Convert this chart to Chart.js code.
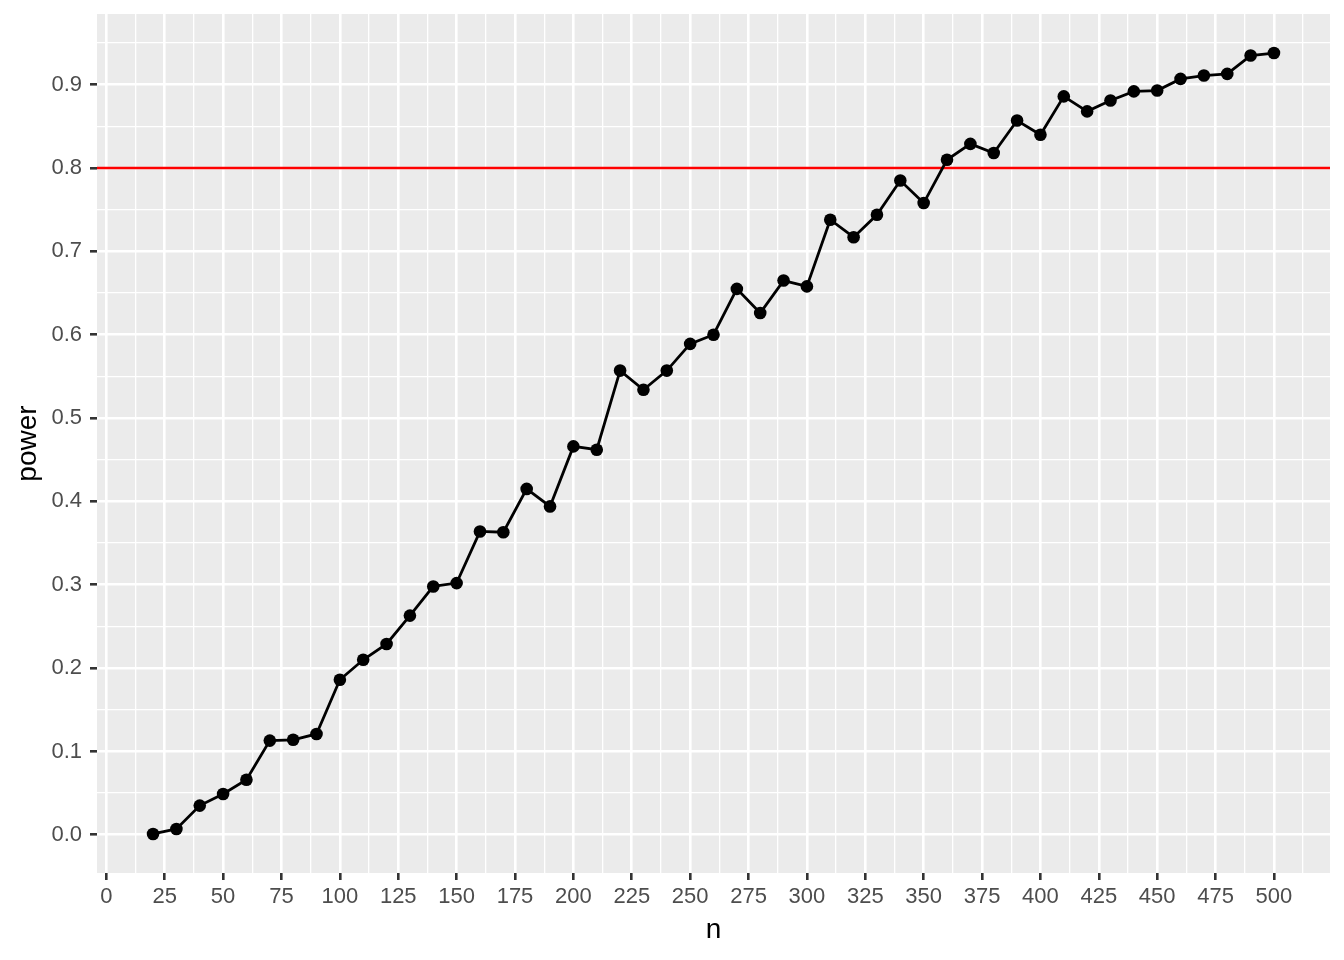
<!doctype html>
<html lang="en">
<head>
    <meta charset="UTF-8">
    <title>power vs n</title>
    <style>
        * {
            margin: 0;
            padding: 0;
            box-sizing: border-box;
        }

        body {
            background: #ffffff;
        }

        #wrap {
            width: 1344px;
            height: 960px;
        }
    </style>
</head>
<body>

<div id="wrap">
    <canvas id="myChart" width="1344" height="960"></canvas>
</div>

<script src="https://cdn.jsdelivr.net/npm/chart.js"></script>

<script>
    // sample sizes and estimated power
    const nValues = [20, 30, 40, 50, 60, 70, 80, 90, 100, 110, 120, 130, 140, 150, 160, 170, 180, 190, 200,
        210, 220, 230, 240, 250, 260, 270, 280, 290, 300, 310, 320, 330, 340, 350, 360, 370, 380, 390, 400,
        410, 420, 430, 440, 450, 460, 470, 480, 490, 500];
    const power = [0.001, 0.007, 0.035, 0.049, 0.066, 0.113, 0.114, 0.121, 0.186, 0.210, 0.229, 0.263, 0.298,
        0.302, 0.364, 0.363, 0.415, 0.394, 0.466, 0.462, 0.557, 0.534, 0.557, 0.589, 0.600, 0.655, 0.626,
        0.665, 0.658, 0.738, 0.717, 0.744, 0.785, 0.758, 0.810, 0.829, 0.818, 0.857, 0.840, 0.886, 0.868,
        0.881, 0.892, 0.893, 0.907, 0.911, 0.913, 0.935, 0.938];

    const threshold = 0.8;

    // axis breaks
    const xBreaks = [0, 25, 50, 75, 100, 125, 150, 175, 200, 225, 250, 275, 300, 325, 350, 375, 400, 425,
        450, 475, 500];
    const xMinor = [12.5, 37.5, 62.5, 87.5, 112.5, 137.5, 162.5, 187.5, 212.5, 237.5, 262.5, 287.5, 312.5,
        337.5, 362.5, 387.5, 412.5, 437.5, 462.5, 487.5, 512.5];
    const yBreaks = [0, 0.1, 0.2, 0.3, 0.4, 0.5, 0.6, 0.7, 0.8, 0.9];
    const yLabels = ['0.0', '0.1', '0.2', '0.3', '0.4', '0.5', '0.6', '0.7', '0.8', '0.9'];
    const yMinor = [0.05, 0.15, 0.25, 0.35, 0.45, 0.55, 0.65, 0.75, 0.85, 0.95];

    // ggplot style 5% expansion
    function expand(vals) {
        const lo = Math.min(...vals), hi = Math.max(...vals);
        const pad = (hi - lo) * 0.05;
        return [lo - pad, hi + pad];
    }
    const [xMin, xMax] = expand(nValues);
    const [yMin, yMax] = expand(power);

    const points = nValues.map((n, i) => ({x: n, y: power[i]}));

    const isMajor = (list, v) => list.some(b => Math.abs(b - v) < 1e-9);

    const panelBg = {
        id: 'panelBg',
        beforeDraw(chart) {
            const {ctx, chartArea: a} = chart;
            ctx.save();
            ctx.fillStyle = '#EBEBEB';
            ctx.fillRect(a.left, a.top, a.right - a.left, a.bottom - a.top);
            ctx.restore();
        }
    };

    const hline = {
        id: 'hline',
        beforeDatasetsDraw(chart) {
            const {ctx, chartArea: a, scales} = chart;
            const y = scales.y.getPixelForValue(threshold);
            ctx.save();
            ctx.strokeStyle = '#FF0000';
            ctx.lineWidth = 2.6;
            ctx.beginPath();
            ctx.moveTo(a.left, y);
            ctx.lineTo(a.right, y);
            ctx.stroke();
            ctx.restore();
        }
    };

    const tickFont = {family: "'Liberation Sans', Arial, sans-serif", size: 22};
    const titleFont = {family: "'Liberation Sans', Arial, sans-serif", size: 28, lineHeight: 1};

    const config = {
        type: 'line',
        data: {
            datasets: [{
                label: 'power',
                data: points,
                borderColor: '#000000',
                backgroundColor: '#000000',
                borderWidth: 2.8,
                pointRadius: 6.3,
                pointHoverRadius: 6.3,
                pointBorderWidth: 0,
                pointBackgroundColor: '#000000',
                tension: 0
            }]
        },
        options: {
            responsive: false,
            animation: false,
            devicePixelRatio: 1,
            layout: {padding: {top: 14, right: 14, left: 0, bottom: 0}},
            plugins: {
                legend: {display: false},
                tooltip: {enabled: false}
            },
            scales: {
                x: {
                    type: 'linear',
                    min: xMin,
                    max: xMax,
                    afterFit(scale) {
                        scale.height = 87;
                        scale.paddingLeft = 0;
                        scale.paddingRight = 0;
                    },
                    afterBuildTicks(scale) {
                        scale.ticks = [...xBreaks, ...xMinor].sort((a, b) => a - b).map(v => ({value: v}));
                    },
                    border: {display: false},
                    grid: {
                        color: '#FFFFFF',
                        lineWidth: c => isMajor(xBreaks, c.tick.value) ? 2.6 : 1.3,
                        tickColor: c => isMajor(xBreaks, c.tick.value) ? '#333333' : 'rgba(0,0,0,0)',
                        tickWidth: 2.6,
                        tickLength: 7
                    },
                    ticks: {
                        autoSkip: false,
                        maxRotation: 0,
                        padding: 4,
                        color: '#4D4D4D',
                        font: tickFont,
                        callback: v => isMajor(xBreaks, v) ? String(v) : ''
                    },
                    title: {
                        display: true,
                        text: 'n',
                        color: '#000000',
                        font: titleFont,
                        padding: {top: 0, bottom: 16}
                    }
                },
                y: {
                    type: 'linear',
                    min: yMin,
                    max: yMax,
                    afterFit(scale) {
                        scale.width = 97;
                        scale.paddingTop = 0;
                        scale.paddingBottom = 0;
                    },
                    afterBuildTicks(scale) {
                        scale.ticks = [...yBreaks, ...yMinor].sort((a, b) => a - b).map(v => ({value: v}));
                    },
                    border: {display: false},
                    grid: {
                        color: '#FFFFFF',
                        lineWidth: c => isMajor(yBreaks, c.tick.value) ? 2.6 : 1.3,
                        tickColor: c => isMajor(yBreaks, c.tick.value) ? '#333333' : 'rgba(0,0,0,0)',
                        tickWidth: 2.6,
                        tickLength: 7
                    },
                    ticks: {
                        autoSkip: false,
                        padding: 8,
                        color: '#4D4D4D',
                        font: tickFont,
                        callback: v => {
                            const i = yBreaks.findIndex(b => Math.abs(b - v) < 1e-9);
                            return i >= 0 ? yLabels[i] : '';
                        }
                    },
                    title: {
                        display: true,
                        text: 'power',
                        color: '#000000',
                        font: titleFont,
                        padding: {top: 14, bottom: 0}
                    }
                }
            }
        },
        plugins: [panelBg, hline]
    };

    const myChart = new Chart(document.getElementById('myChart'), config);
</script>

</body>
</html>
